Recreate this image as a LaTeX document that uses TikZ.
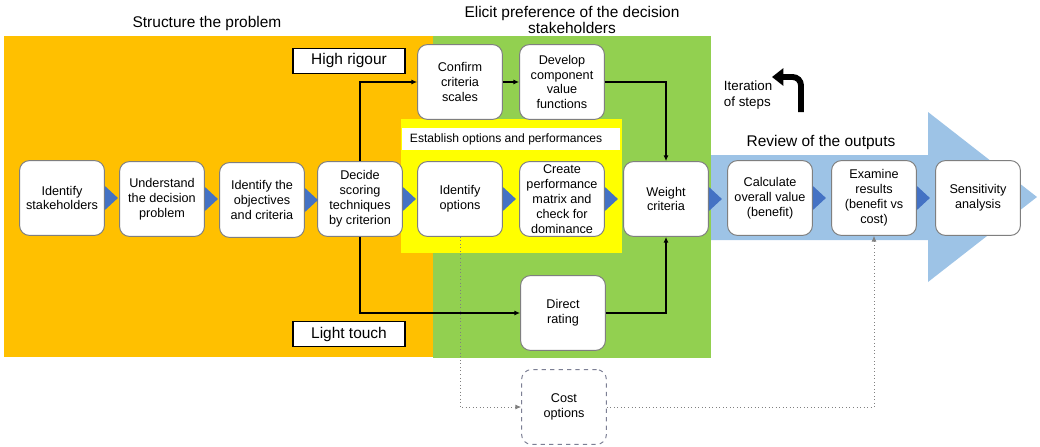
\documentclass[tikz,border=0pt]{standalone}
\usepackage{fontspec}
\setmainfont{Liberation Sans}
\usetikzlibrary{arrows.meta}
\definecolor{probOrange}{HTML}{FFC000}
\definecolor{elicitGreen}{HTML}{92D050}
\definecolor{optYellow}{HTML}{FFFF00}
\definecolor{reviewBlue}{HTML}{9DC3E6}
\definecolor{chevBlue}{HTML}{4472C4}
\definecolor{boxGrey}{HTML}{7F7F7F}
\definecolor{costGrey}{HTML}{7C7F94}
\begin{document}
\begin{tikzpicture}[x=0.025cm, y=-0.025cm,
    stepbox/.style={draw=boxGrey, fill=white, rounded corners=7pt, line width=0.7pt,
      minimum width=2.12cm, minimum height=1.87cm, inner sep=1pt, align=center,
      font=\fontsize{9}{10.6}\selectfont},
    costbox/.style={stepbox, dashed, draw=costGrey},
    tagbox/.style={draw, line width=1pt, fill=white, minimum width=2.8cm,
      minimum height=0.62cm, font=\fontsize{11}{13}\selectfont},
    title/.style={align=center, font=\fontsize{11}{11.5}\selectfont},
    link/.style={-{Latex[length=4pt,width=3.5pt]}, line width=0.9pt},
    costlink/.style={-{Latex[length=4pt,width=3.5pt]}, dotted, gray, line width=0.5pt},
    chev/.style={fill=chevBlue}]
          \useasboundingbox (0,0) rectangle (1040,447);
          % stage backgrounds
          \fill[probOrange] (4,36) rectangle (434,357);
          \fill[elicitGreen] (433,36) rectangle (711,358);
          \fill[reviewBlue] (711,155) -- (928,155) -- (928,112) -- (1037,197)
            -- (928,282) -- (928,240) -- (711,240) -- cycle;
          \fill[optYellow] (401,119) rectangle (622,253);
          \fill[white] (402,128) rectangle (620,150);
          \node[anchor=west, font=\fontsize{8.6}{10}\selectfont] (estabT) at (405,139)
            {Establish options and performances};
          % titles
          \node[title] (structT) at (207,24) {Structure the problem};
          \node[title] (elicitT) at (572,20) {Elicit preference of the decision\\stakeholders};
          \node[title] (reviewT) at (821,142) {Review of the outputs};
          \node[anchor=west, align=left, font=\fontsize{9.5}{11.3}\selectfont] (iterT)
            at (719,95) {Iteration\\of steps};
          \draw[line width=4.2pt, rounded corners=6pt, -{Triangle[length=8pt,width=12pt]}]
            (801,112) -- (801,77) -- (772,77);
          % steps
          \node[stepbox] (stake) at (62,198) {Identify\\stakeholders};
          \node[stepbox] (under) at (162,199) {Understand\\the decision\\problem};
          \node[stepbox] (obj) at (262,200) {Identify the\\objectives\\and criteria};
          \node[stepbox] (decide) at (360,199) {Decide\\scoring\\techniques\\by criterion};
          \node[stepbox] (idopt) at (460,199) {Identify\\options};
          \node[stepbox] (perf) at (562,199) {Create\\performance\\matrix and\\check for\\dominance};
          \node[stepbox] (weight) at (666,199) {Weight\\criteria};
          \node[stepbox] (calc) at (770,198) {Calculate\\overall value\\(benefit)};
          \node[stepbox] (exam) at (874,198) {Examine\\results\\(benefit vs\\cost)};
          \node[stepbox] (sens) at (978,198) {Sensitivity\\analysis};
          \node[stepbox] (confirm) at (460,82) {Confirm\\criteria\\scales};
          \node[stepbox] (develop) at (562,82) {Develop\\component\\value\\functions};
          \node[stepbox] (direct) at (563,313) {Direct\\rating};
          \node[costbox] (cost) at (564,407) {Cost\\options};
          \node[tagbox] (rigour) at (349,61) {High rigour};
          \node[tagbox] (touch) at (349,334) {Light touch};
          % chevrons between steps
          \foreach \s in {stake,under,obj,decide,idopt,perf,weight,calc,exam}
            \fill[chev] (\s.east) ++(0,-12) -- ++(13,12) -- ++(-13,12) -- cycle;
          % connectors
          \draw[link] (decide.north) |- (confirm.west);
          \draw[link] (decide.south) |- (direct.west);
          \draw[link] (confirm) -- (develop);
          \draw[link] (develop.east) -| (weight.north);
          \draw[link] (direct.east) -| (weight.south);
          \draw[costlink] (idopt.south) |- (cost.west);
          \draw[costlink] (cost.east) -| (exam.south);
        \end{tikzpicture}
\end{document}
